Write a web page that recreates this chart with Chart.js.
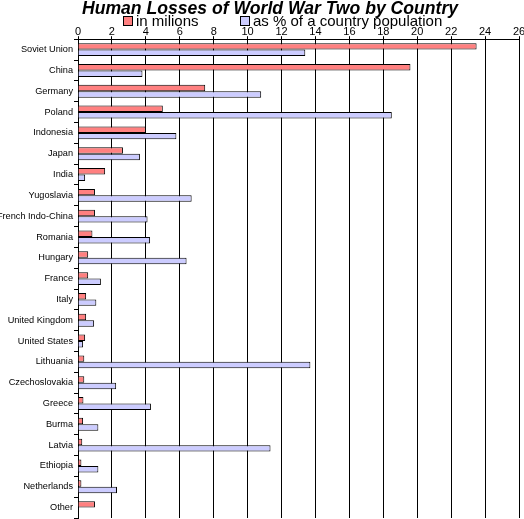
<!DOCTYPE html>
<html>
<head>
  <title>Human Losses of World War Two by Country</title>
  <style>
    html, body { margin: 0; padding: 0; background: #fff; }
    #wrap { width: 524px; height: 519px; }
  </style>
</head>
<body>
  <div id="wrap"><canvas id="chart"></canvas></div>

  <script src="https://cdn.jsdelivr.net/npm/chart.js"></script>
  <script>
    const countries = ['Soviet Union', 'China', 'Germany', 'Poland', 'Indonesia', 'Japan', 'India',
      'Yugoslavia', 'French Indo-China', 'Romania', 'Hungary', 'France', 'Italy', 'United Kingdom',
      'United States', 'Lithuania', 'Czechoslovakia', 'Greece', 'Burma', 'Latvia', 'Ethiopia',
      'Netherlands', 'Other'];
    const millions = [23.5, 19.6, 7.5, 5.0, 4.0, 2.65, 1.6, 1.0, 1.0, 0.85, 0.6, 0.6, 0.48, 0.48,
      0.42, 0.37, 0.37, 0.32, 0.3, 0.25, 0.2, 0.2, 1.0];
    const percent = [13.4, 3.8, 10.8, 18.5, 5.8, 3.65, 0.42, 6.7, 4.1, 4.25, 6.4, 1.35, 1.08, 0.95,
      0.3, 13.7, 2.25, 4.3, 1.2, 11.35, 1.2, 2.3, 0];
    const xTicks = [0, 2, 4, 6, 8, 10, 12, 14, 16, 18, 20, 22, 24, 26];

    const font = 'Liberation Sans, Arial, sans-serif';
    const titleText = 'Human Losses of World War Two by Country';

    // title and legend are packed tighter than Chart.js's own boxes allow
    const header = {
      id: 'header',
      afterDraw(chart) {
        const ctx = chart.ctx;
        ctx.save();
        ctx.fillStyle = '#000';
        ctx.textBaseline = 'alphabetic';
        ctx.textAlign = 'center';
        ctx.font = 'italic bold 17.6px ' + font;
        ctx.fillText(titleText, 270, 14);

        ctx.font = '15px ' + font;
        ctx.textAlign = 'left';
        const items = [[123, chart.data.datasets[0]], [240, chart.data.datasets[1]]];
        items.forEach(([x, ds]) => {
          ctx.fillStyle = ds.backgroundColor;
          ctx.fillRect(x, 16, 10, 10);
          ctx.strokeStyle = '#000';
          ctx.lineWidth = 1;
          ctx.strokeRect(x + 0.5, 16.5, 9, 9);
          ctx.fillStyle = '#000';
          ctx.fillText(ds.label, x + 13, 26);
        });
        ctx.restore();
      }
    };

    new Chart(document.getElementById('chart'), {
      type: 'bar',
      data: {
        labels: countries,
        datasets: [
          {
            label: 'in milions',
            data: millions,
            backgroundColor: '#ff8080',
            borderColor: '#000',
            borderWidth: 1,
            categoryPercentage: 0.62,
            barPercentage: 1.0
          },
          {
            label: 'as % of a country population',
            data: percent,
            backgroundColor: '#ccccff',
            borderColor: '#000',
            borderWidth: 1,
            categoryPercentage: 0.62,
            barPercentage: 1.0
          }
        ]
      },
      plugins: [header],
      options: {
        indexAxis: 'y',
        responsive: true,
        maintainAspectRatio: false,
        animation: false,
        layout: { padding: { left: 0, right: 0, top: 27, bottom: 0 } },
        plugins: {
          title: { display: false },
          legend: { display: false },
          tooltip: { enabled: false }
        },
        scales: {
          x: {
            position: 'top',
            min: 0,
            max: 26,
            afterBuildTicks: axis => { axis.ticks = xTicks.map(v => ({ value: v })); },
            afterFit: axis => { axis.paddingLeft = 0; axis.paddingRight = 5; },
            ticks: { color: '#000', font: { family: font, size: 11 }, padding: -2, maxRotation: 0 },
            grid: { color: '#000', lineWidth: 1, tickLength: 3 },
            border: { color: '#000', width: 1 }
          },
          y: {
            afterFit: axis => { axis.width = 78; axis.paddingTop = 0; axis.paddingBottom = 1; },
            ticks: { color: '#000', font: { family: font, size: 9.2 }, padding: 1, autoSkip: false },
            grid: { drawOnChartArea: false, color: '#000', tickLength: 4 },
            border: { color: '#000', width: 1 }
          }
        }
      }
    });
  </script>
</body>
</html>
